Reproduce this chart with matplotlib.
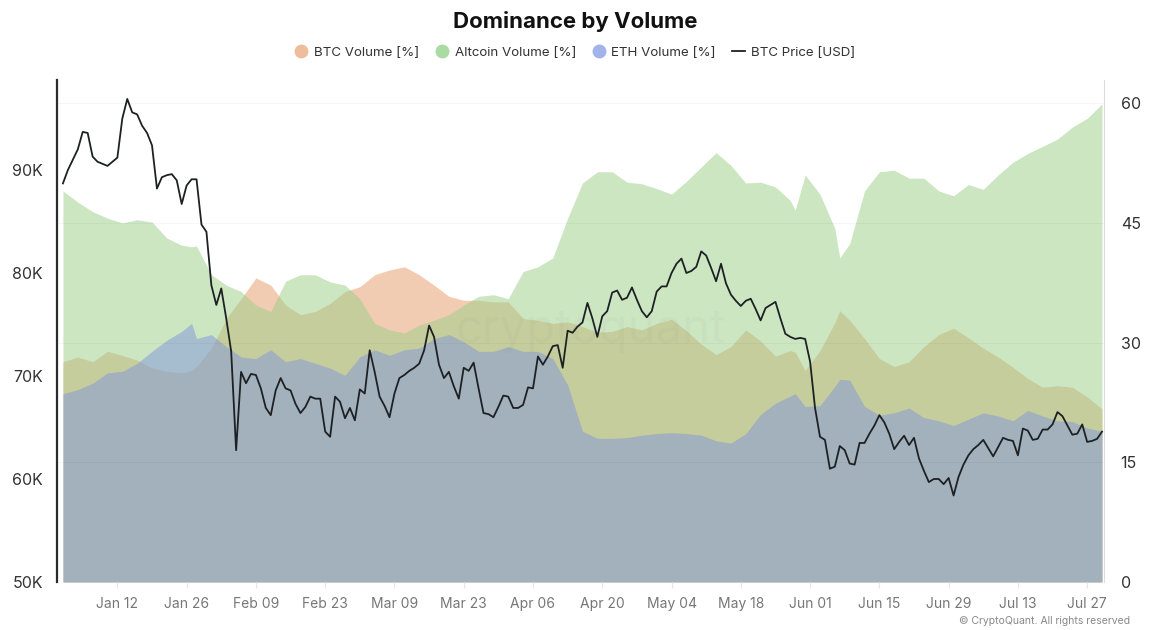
import matplotlib.pyplot as plt
import matplotlib.dates as mdates
from matplotlib.lines import Line2D
import pandas as pd

plt.rcParams['font.family'] = ['Inter', 'DejaVu Sans']

# BTC price, one value per day from 2025-01-01, in thousands of USD
btc_price = [
    88.7, 90.0, 91.0, 92.0, 93.7, 93.6, 91.3, 90.8, 90.6, 90.4,
    90.8, 91.2, 95.0, 96.9, 95.6, 95.4, 94.3, 93.6, 92.4, 88.2,
    89.3, 89.5, 89.6, 89.0, 86.7, 88.5, 89.1, 89.1, 84.7, 84.0,
    78.8, 76.9, 78.5, 75.6, 72.4, 62.8, 70.4, 69.3, 70.2, 70.1,
    68.8, 66.9, 66.2, 68.6, 69.8, 68.8, 68.6, 67.3, 66.4, 67.0,
    68.0, 67.8, 67.8, 64.6, 64.1, 68.0, 67.5, 65.9, 66.9, 65.7,
    68.7, 68.3, 72.5, 70.4, 68.0, 67.1, 66.0, 68.3, 69.8, 70.1,
    70.5, 70.8, 71.2, 72.5, 74.9, 73.8, 71.1, 69.8, 70.4, 69.0,
    67.8, 70.8, 70.5, 71.3, 68.8, 66.4, 66.3, 66.0, 67.0, 68.1,
    68.0, 66.9, 66.9, 67.2, 68.9, 68.8, 71.9, 71.1, 71.9, 72.9,
    73.0, 70.8, 74.4, 74.2, 74.8, 75.2, 77.1, 75.6, 73.8, 75.8,
    76.3, 78.1, 78.3, 77.4, 77.6, 78.6, 77.4, 76.3, 75.7, 76.3,
    78.2, 78.7, 78.7, 80.0, 80.9, 81.4, 80.0, 80.2, 80.6, 82.1,
    81.7, 80.5, 79.2, 80.9, 79.0, 77.9, 77.3, 76.8, 77.3, 77.5,
    76.5, 75.4, 76.6, 76.9, 77.2, 75.6, 74.1, 73.8, 73.6, 73.7,
    73.6, 71.4, 66.9, 64.1, 63.8, 61.0, 61.2, 63.2, 62.8, 61.5,
    61.4, 63.5, 63.5, 64.4, 65.2, 66.2, 65.5, 64.4, 62.9, 63.6,
    64.2, 63.3, 64.0, 62.0, 60.8, 59.7, 60.0, 60.0, 59.5, 60.1,
    58.4, 60.2, 61.4, 62.3, 62.9, 63.3, 63.8, 63.0, 62.2, 63.1,
    64.0, 63.8, 63.7, 62.3, 64.9, 64.7, 63.8, 63.9, 64.8, 64.8,
    65.3, 66.5, 66.1, 65.2, 64.3, 64.4, 65.3, 63.6, 63.7, 63.9,
    64.6,
]

# volume shares, read every few days (day offset from 2025-01-01)
area_days = [
    0, 3, 6, 9, 12, 15, 18, 21, 24, 26, 27, 30, 33, 36, 39, 42, 45, 48, 51,
    54, 57, 60, 63, 66, 69, 72, 75, 78, 81, 84, 87, 90, 93, 96, 99, 102,
    105, 108, 111, 114, 117, 120, 123, 126, 129, 132, 135, 138, 141, 144,
    147, 148, 150, 153, 156, 157, 159, 162, 165, 168, 171, 174, 177, 180,
    183, 186, 189, 192, 195, 198, 201, 204, 207, 210,
]
altcoin_vol = [
    49.0, 47.6, 46.4, 45.6, 45.0, 45.4, 45.1, 43.1, 42.2, 42.0, 42.1, 38.5, 37.2,
    36.4, 34.7, 33.9, 37.7, 38.5, 38.5, 37.6, 37.2, 35.5, 32.4, 31.6, 31.2,
    32.2, 32.8, 33.5, 34.7, 35.8, 36.0, 35.5, 38.9, 39.5, 40.6, 45.6, 50.0,
    51.4, 51.4, 50.1, 49.9, 49.3, 48.6, 50.2, 52.0, 53.8, 52.2, 50.0, 50.1,
    49.5, 47.8, 46.6, 51.0, 48.6, 44.3, 40.6, 42.4, 49.0, 51.4, 51.6, 50.6,
    50.6, 49.0, 48.4, 49.8, 49.2, 51.0, 52.6, 53.7, 54.6, 55.5, 57.0, 58.1,
    59.9,
]
btc_vol = [
    27.6, 28.2, 27.6, 28.9, 28.4, 27.8, 26.8, 26.4, 26.2, 26.5, 27.0, 29.3, 33.0,
    35.5, 38.1, 37.2, 34.7, 33.5, 33.9, 34.9, 36.4, 37.0, 38.5, 39.1, 39.5,
    38.5, 37.2, 35.8, 35.3, 35.3, 35.1, 35.1, 33.0, 32.8, 32.4, 32.6, 32.0,
    31.3, 31.4, 32.0, 31.6, 32.4, 32.9, 31.5, 29.8, 28.5, 29.5, 31.6, 30.2,
    28.3, 29.0, 28.8, 26.5, 29.0, 32.5, 34.0, 32.8, 30.5, 28.0, 27.0, 27.6,
    29.5, 31.0, 31.8, 30.6, 29.3, 28.2, 26.9, 25.5, 24.4, 24.6, 24.4, 23.2,
    21.7,
]
eth_vol = [
    23.6, 24.1, 24.9, 26.2, 26.4, 27.4, 28.9, 30.3, 31.4, 32.4, 30.5, 31.0, 29.5,
    28.2, 28.0, 29.1, 27.6, 28.0, 27.4, 26.8, 25.9, 28.2, 29.1, 28.4, 29.1,
    29.3, 30.5, 31.0, 30.1, 28.9, 28.9, 29.5, 28.9, 28.9, 28.0, 24.7, 18.9,
    18.0, 18.0, 18.1, 18.4, 18.6, 18.7, 18.6, 18.4, 17.7, 17.4, 18.6, 21.0,
    22.4, 23.3, 23.6, 22.0, 22.1, 24.5, 25.4, 25.3, 22.0, 20.9, 21.2, 21.8,
    20.6, 20.2, 19.6, 20.4, 21.2, 20.8, 20.2, 21.5, 20.8, 20.2, 20.1, 19.3,
    18.9,
]

price_ticks = [50, 60, 70, 80, 90]
pct_ticks = [0, 15, 30, 45, 60]

start = pd.Timestamp('2025-01-01')
price_dates = pd.date_range(start, periods=len(btc_price), freq='D')
area_dates = start + pd.to_timedelta(area_days, unit='D')

C_BTC = '#e59b67'
C_ALT = '#9bcf87'
C_ETH = '#8096dd'

fig = plt.figure(figsize=(11.5, 6.3), dpi=100)
W, H = 1150, 630
ax = fig.add_axes([57 / W, 1 - 582 / H, (1104 - 57) / W, (582 - 80) / H])
ax2 = ax.twinx()

# overlapping areas, right axis
ax2.fill_between(area_dates, 0, btc_vol, color=C_BTC, alpha=0.5, lw=0)
ax2.fill_between(area_dates, 0, altcoin_vol, color=C_ALT, alpha=0.5, lw=0)
ax2.fill_between(area_dates, 0, eth_vol, color=C_ETH, alpha=0.5, lw=0)
ax2.set_ylim(0, 62.9)
ax2.set_yticks(pct_ticks)
ax2.grid(axis='y', color='#000000', alpha=0.035, lw=0.8)

# price line on top, left axis
ax.set_zorder(ax2.get_zorder() + 1)
ax.patch.set_visible(False)
ax.plot(price_dates, btc_price, color='#1e2124', lw=1.3)
ax.set_ylim(50, 98.74)
ax.set_yticks(price_ticks)
ax.set_yticklabels([f'{v}K' for v in price_ticks])

ax.text(0.51, 0.50, 'cryptoquant', transform=ax.transAxes, fontsize=34,
        color='#808080', alpha=0.05, ha='center', va='center')

ax.set_xlim(start - pd.Timedelta(days=1.2), price_dates[-1] + pd.Timedelta(days=0.4))
ax.set_xticks(pd.date_range('2025-01-12', '2025-07-27', freq='14D'))
ax.xaxis.set_major_formatter(mdates.DateFormatter('%b %d'))

for s in ['top', 'right', 'bottom']:
    ax.spines[s].set_visible(False)
ax.spines['left'].set_color('#2b2b2b')
ax.spines['left'].set_linewidth(1.6)
for s in ['top', 'left', 'bottom']:
    ax2.spines[s].set_visible(False)
ax2.spines['right'].set_color('#dddddd')

ax.tick_params(axis='y', length=0, pad=10, labelsize=11.5, labelcolor='#333333')
ax.tick_params(axis='x', length=4, color='#e6e6e6', pad=7, labelsize=10,
               labelcolor='#777777')
ax2.tick_params(axis='y', length=0, pad=12, labelsize=11.5, labelcolor='#333333')

fig.text(0.5, 1 - 22 / H, 'Dominance by Volume', ha='center', va='center',
         fontsize=16, fontweight='bold', color='#111111')

handles = [
    Line2D([], [], marker='o', ls='', ms=10, mfc='#efbd9c', mec='none'),
    Line2D([], [], marker='o', ls='', ms=10, mfc='#aadba2', mec='none'),
    Line2D([], [], marker='o', ls='', ms=10, mfc='#a1b3e8', mec='none'),
    Line2D([], [], color='#1e2124', lw=1.3),
]
labels = ['BTC Volume [%]', 'Altcoin Volume [%]', 'ETH Volume [%]', 'BTC Price [USD]']
fig.legend(handles, labels, loc='center', bbox_to_anchor=(0.5, 1 - 53 / H),
           ncol=4, frameon=False, fontsize=9.6, handlelength=1.0,
           handletextpad=0.45, columnspacing=1.2, labelcolor='#333333')

fig.text(1130 / W, 1 - 621 / H, '© CryptoQuant. All rights reserved', ha='right',
         va='center', fontsize=7.5, color='#888888')

fig.savefig('out.png', dpi=100)
